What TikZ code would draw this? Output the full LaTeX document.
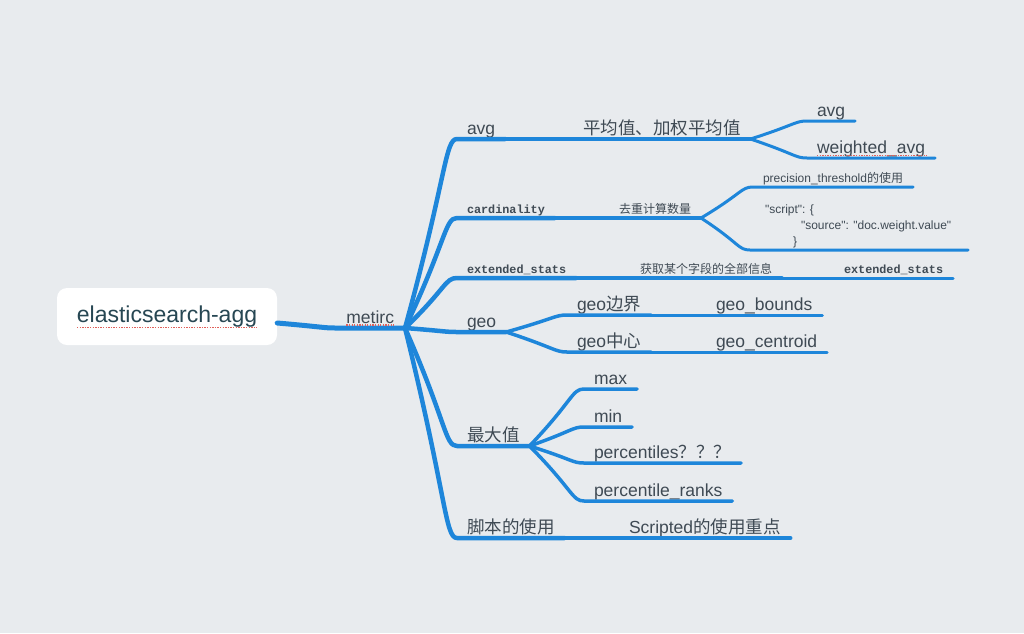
\documentclass[tikz,border=0pt]{standalone}
\usepackage{fontspec}
\usepackage{tikz}
\usetikzlibrary{calc}
\setmainfont{Liberation Sans}[Ligatures=TeXOff]
\setmonofont{Liberation Mono}
\newfontfamily\cjk{Noto Sans CJK SC}
\definecolor{bgcol}{HTML}{E8EBEE}
\definecolor{linkblue}{HTML}{1E86DA}
\definecolor{txtgray}{HTML}{3F4A54}
\definecolor{roottxt}{HTML}{274753}
\definecolor{spellred}{HTML}{E0605A}
\tikzset{
  topic/.style={anchor=south west, inner xsep=10pt, inner ysep=5pt, outer sep=0pt, text depth=0pt, text=txtgray, font=\fontsize{17.5}{21}\selectfont},
  small/.style={topic, inner ysep=4.5pt, font=\fontsize{12}{16}\selectfont},
  code/.style={topic, inner ysep=4.5pt, font=\ttfamily\bfseries\fontsize{11.8}{14}\selectfont},
  rootbox/.style={fill=white, rounded corners=10pt, minimum width=220pt, minimum height=57pt, text=roottxt, font=\fontsize{23}{27}\selectfont},
  l0/.style={draw=linkblue, line width=5pt, line cap=round, line join=round},
  l1/.style={draw=linkblue, line width=4.5pt, line cap=round, line join=round},
  l2/.style={draw=linkblue, line width=3.5pt, line cap=round, line join=round},
  l3/.style={draw=linkblue, line width=3pt, line cap=round, line join=round},
  spell/.style={draw=spellred, line width=1.3pt, dash pattern=on 1.3pt off 1.3pt},
  elbow/.style={to path={.. controls ($(\tikztostart)!0.8!(\tikztotarget)$) and ($(\tikztotarget)+(-12,0)$) .. (\tikztotarget)}}
}
\begin{document}
\begin{tikzpicture}[x=1pt,y=-1pt]
  \fill[bgcol] (0,0) rectangle (1024,633);
  \useasboundingbox (0,0) rectangle (1024,633);

  % Root and central topic
  \node[rootbox] (root) at (167,316.5) {elasticsearch-agg};
  \coordinate (rootout) at ([yshift=-6.5pt]root.east);
  \node[topic, anchor=south east, inner xsep=11pt] (metirc) at (405,328) {metirc};

  % First level
  \node[topic] (avg) at (457,139) {avg};
  \node[code] (card) at (457,218) {cardinality};
  \node[code] (ext) at (457,278) {extended\_stats};
  \node[topic] (geo) at (457,332) {geo};
  \node[topic] (maxv) at (457,446) {{\cjk 最大值}};
  \node[topic] (scr) at (457,538) {{\cjk 脚本的使用}};

  % avg
  \node[topic] (avgdef) at (573,139) {{\cjk 平均值、加权平均值}};
  \node[topic] (avgsub) at (807,121) {avg};
  \node[topic] (wavg) at (807,158) {weighted\_avg};

  % cardinality
  \node[small] (carddef) at (609,218) {{\cjk 去重计算数量}};
  \node[small] (prec) at (753,187) {precision\_threshold{\cjk 的使用}};
  \node[small, inner xsep=15pt, inner ysep=5pt] (scriptsrc) at (750,250)
    {\parbox[b]{188pt}{\raggedright "script": \{\\\hspace*{36pt}\mbox{"source": "doc.weight.value"}\\\hspace*{28pt}\}}};

  % extended_stats
  \node[small] (extdef) at (630,278) {{\cjk 获取某个字段的全部信息}};
  \node[code] (extsub) at (834,278) {extended\_stats};

  % geo
  \node[topic] (geob) at (567,315) {geo{\cjk 边界}};
  \node[topic] (geobsub) at (706,315) {geo\_bounds};
  \node[topic] (geoc) at (567,352) {geo{\cjk 中心}};
  \node[topic] (geocsub) at (706,352) {geo\_centroid};

  % max
  \node[topic] (vmax) at (584,389) {max};
  \node[topic] (vmin) at (584,427) {min};
  \node[topic] (pct) at (584,463) {percentiles{\cjk ？？？}};
  \node[topic] (pctr) at (584,501) {percentile\_ranks};

  % script
  \node[topic] (scrdef) at (619,538) {Scripted{\cjk 的使用重点}};

  % Edges
  \draw[l0] (rootout) to[elbow] (metirc.south west) -- (metirc.south east);

  \draw[l1] (metirc.south east) to[elbow] (avg.south west) -- (avg.south east);
  \draw[l1] (metirc.south east) to[elbow] (card.south west) -- (card.south east);
  \draw[l1] (metirc.south east) to[elbow] (ext.south west) -- (ext.south east);
  \draw[l1] (metirc.south east) to[elbow] (geo.south west) -- (geo.south east);
  \draw[l1] (metirc.south east) to[elbow] (maxv.south west) -- (maxv.south east);
  \draw[l1] (metirc.south east) to[elbow] (scr.south west) -- (scr.south east);

  \draw[l2] (avg.south east) to[elbow] (avgdef.south west) -- (avgdef.south east);
  \draw[l3] (avgdef.south east) to[elbow] (avgsub.south west) -- (avgsub.south east);
  \draw[l3] (avgdef.south east) to[elbow] (wavg.south west) -- (wavg.south east);

  \draw[l2] (card.south east) to[elbow] (carddef.south west) -- (carddef.south east);
  \draw[l3] (carddef.south east) to[elbow] (prec.south west) -- (prec.south east);
  \draw[l3] (carddef.south east) to[elbow] (scriptsrc.south west) -- (scriptsrc.south east);

  \draw[l2] (ext.south east) to[elbow] (extdef.south west) -- (extdef.south east);
  \draw[l3] (extdef.south east) to[elbow] (extsub.south west) -- (extsub.south east);

  \draw[l2] (geo.south east) to[elbow] (geob.south west) -- (geob.south east);
  \draw[l3] (geob.south east) to[elbow] (geobsub.south west) -- (geobsub.south east);
  \draw[l2] (geo.south east) to[elbow] (geoc.south west) -- (geoc.south east);
  \draw[l3] (geoc.south east) to[elbow] (geocsub.south west) -- (geocsub.south east);

  \draw[l2] (maxv.south east) to[elbow] (vmax.south west) -- (vmax.south east);
  \draw[l2] (maxv.south east) to[elbow] (vmin.south west) -- (vmin.south east);
  \draw[l2] (maxv.south east) to[elbow] (pct.south west) -- (pct.south east);
  \draw[l2] (maxv.south east) to[elbow] (pctr.south west) -- (pctr.south east);

  \draw[l2] (scr.south east) to[elbow] (scrdef.south west) -- (scrdef.south east);

  % Spelling marks
  \draw[spell] ($(root.center)+(-90,11)$) -- ($(root.center)+(90,11)$);
  \draw[spell] ([xshift=11pt,yshift=3pt]metirc.south west) -- ([xshift=-11pt,yshift=3pt]metirc.south east);
  \draw[spell] ([xshift=10pt,yshift=2.5pt]wavg.south west) -- ([xshift=-8pt,yshift=2.5pt]wavg.south east);
\end{tikzpicture}
\end{document}
